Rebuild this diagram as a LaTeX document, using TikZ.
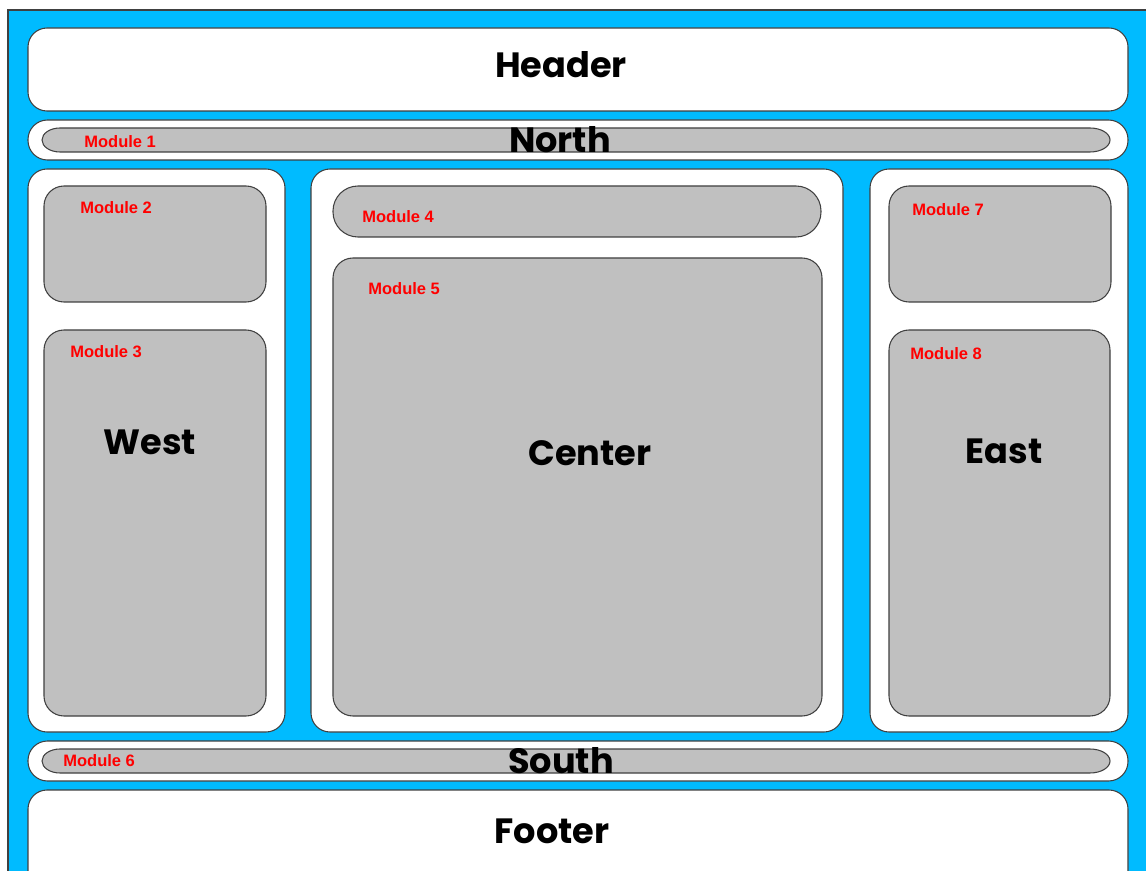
\documentclass[tikz,border=0pt]{standalone}
\usepackage{fontspec}
\newfontfamily\gothic{Poppins}
\newfontfamily\arialfont{Liberation Sans}
\usetikzlibrary{positioning}
\definecolor{skyblue}{RGB}{0,187,255}
\definecolor{modgray}{RGB}{192,192,192}
\definecolor{edge}{RGB}{64,64,64}
\tikzset{
  region/.style={
    draw = edge,
    line width = 0.6pt,
    fill = white,
    rounded corners = 0.38cm
  },
  module/.style={
    draw = edge,
    line width = 0.6pt,
    fill = modgray,
    rounded corners = 0.4cm
  },
  bar/.style={
    draw = edge,
    line width = 0.6pt,
    fill = modgray
  },
}
\tikzset{
  modlabel/.style={
    anchor = west,
    text = red,
    inner sep = 0pt,
    font = \arialfont\bfseries\fontsize{9.4}{10}\selectfont
  },
  area/.style={
    anchor = base,
    inner sep = 0pt,
    font = \gothic\bfseries\fontsize{20}{22}\selectfont
  },
}

\begin{document}
\begin{tikzpicture}[x=0.02cm,y=-0.02cm]
  \useasboundingbox (0,0) rectangle (1146,871);
  \clip (0,0) rectangle (1146,871);
  \draw[fill=skyblue,draw=edge,line width=0.6pt] (8,10) rectangle (1160,890);
  % header and footer
  \draw[region] (28,28) rectangle (1128,111);
  \draw[region] (28,790) rectangle (1128,900);
  % north and south bars
  \foreach \y in {140,761}{
    \draw[region,rounded corners=0.39cm] (28,\y-20) rectangle (1128,\y+20);
    \draw[bar] (60,\y-12) -- (1090,\y-12)
      arc[start angle=90,end angle=-90,x radius=0.4cm,y radius=0.24cm]
      -- (60,\y+12)
      arc[start angle=270,end angle=90,x radius=0.36cm,y radius=0.24cm] -- cycle;
  }
  % west, center, east
  \draw[region] (28,169) rectangle (285,732);
  \draw[region] (311,169) rectangle (843,732);
  \draw[region] (870,169) rectangle (1128,732);
  \draw[module] (44,186) rectangle (266,302);
  \draw[module] (44,330) rectangle (266,716);
  \draw[module,rounded corners=0.5cm] (333,186) rectangle (821,237);
  \draw[module] (333,258) rectangle (822,716);
  \draw[module] (889,186) rectangle (1111,302);
  \draw[module] (889,330) rectangle (1110,716);

  \node[area] (header) at (561,78) {Header};
  \node[area] (north) at (560,153) {North};
  \node[area] (west) at (150,455) {West};
  \node[area] (center) at (590,465) {Center};
  \node[area] (east) at (1004,463) {East};
  \node[area] (south) at (561,773) {South};
  \node[area] (footer) at (552,843) {Footer};

  \node[modlabel] (m1) at (84,142) {Module 1};
  \node[modlabel] (m2) at (80,208) {Module 2};
  \node[modlabel] (m3) at (70,352) {Module 3};
  \node[modlabel] (m4) at (362,217) {Module 4};
  \node[modlabel] (m5) at (368,289) {Module 5};
  \node[modlabel] (m6) at (63,761) {Module 6};
  \node[modlabel] (m7) at (912,210) {Module 7};
  \node[modlabel] (m8) at (910,354) {Module 8};
\end{tikzpicture}
\end{document}
